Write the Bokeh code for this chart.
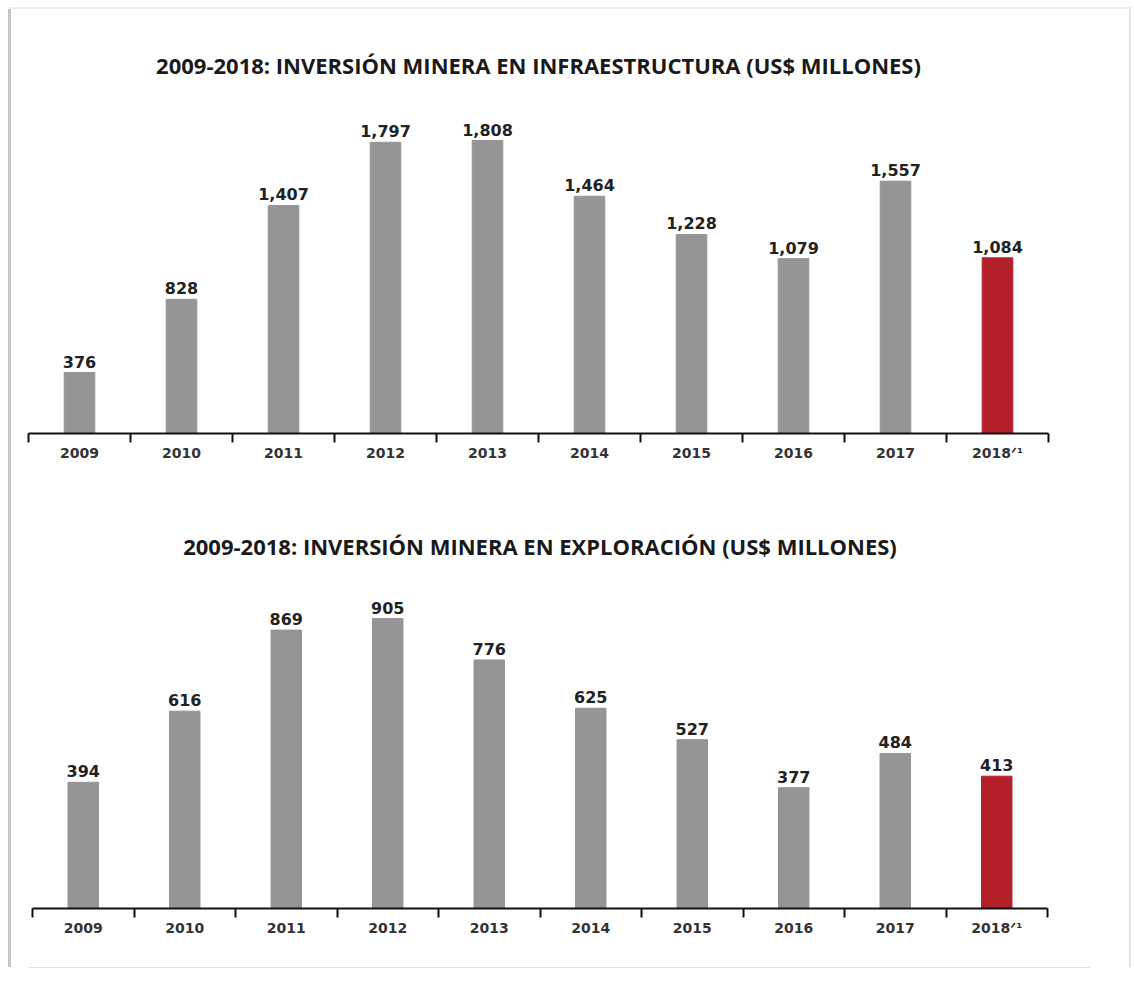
from bokeh.plotting import figure
from bokeh.layouts import column
from bokeh.models import FixedTicker, ColumnDataSource, Range1d, CustomJSTickFormatter
from bokeh.core.properties import value
from bokeh.embed import file_html
from bokeh.resources import INLINE

years = ["2009", "2010", "2011", "2012", "2013", "2014", "2015", "2016", "2017", "2018"]
infraestructura = [376, 828, 1407, 1797, 1808, 1464, 1228, 1079, 1557, 1084]
exploracion = [394, 616, 869, 905, 776, 625, 527, 377, 484, 413]
bar_colors = ["#959595"] * 9 + ["#B3202A"]
title_infra = "2009-2018: INVERSIÓN MINERA EN INFRAESTRUCTURA (US$ MILLONES)"
title_explo = "2009-2018: INVERSIÓN MINERA EN EXPLORACIÓN (US$ MILLONES)"
note = "\u141f\u00b9"  # superscript "/1" note marker on the last year

W = 1132


def make_chart(vals, title, height, ymax, mb_left, mb_right, mb_top, mb_bottom, standoff, styles=None):
    n = len(years)
    pos = [i + 0.5 for i in range(n)]
    p = figure(width=W, height=height, output_backend="svg", toolbar_location=None,
               x_range=Range1d(0, n), y_range=Range1d(0, ymax),
               min_border_left=mb_left, min_border_right=mb_right,
               min_border_top=mb_top, min_border_bottom=mb_bottom,
               background_fill_color=None, border_fill_color=None)
    if styles:
        p.styles = styles
    src = ColumnDataSource(dict(x=pos, top=vals, color=bar_colors,
                                label=[f"{v:,}" for v in vals]))
    p.vbar(x="x", top="top", bottom=0, width=0.3, color="color", source=src)
    p.text(x="x", y="top", text="label", source=src, text_align="center",
           text_baseline="bottom", y_offset=-5, text_font=value("DejaVu Sans"),
           text_font_style="bold", text_font_size="16px", text_color="#222222")
    p.yaxis.visible = False
    p.grid.visible = False
    p.outline_line_color = None
    xa = p.xaxis[0]
    xa.ticker = FixedTicker(ticks=pos, minor_ticks=list(range(n + 1)))
    xa.formatter = CustomJSTickFormatter(
        args=dict(labels=years, note=note),
        code="var i = Math.floor(tick); return i == labels.length - 1 ? labels[i] + note : (labels[i] || '')")
    xa.axis_line_width = 2
    xa.axis_line_color = "#111111"
    xa.major_tick_line_color = None
    xa.major_tick_out = 8
    xa.major_tick_in = 0
    xa.minor_tick_in = 0
    xa.minor_tick_out = 9
    xa.minor_tick_line_width = 2
    xa.minor_tick_line_color = "#111111"
    xa.major_label_standoff = 2
    xa.major_label_text_font = "DejaVu Sans"
    xa.major_label_text_font_style = "bold"
    xa.major_label_text_font_size = "14px"
    xa.major_label_text_color = "#333333"
    p.title.text = title
    p.title.align = "center"
    p.title.text_font = "Open Sans"
    p.title.text_font_style = "bold"
    p.title.text_font_size = "22px"
    p.title.text_color = "#1a1a1a"
    p.title.standoff = standoff
    return p


p1 = make_chart(infraestructura, title_infra, 490, 2061, 28, W - 28 - 1020, 99, 57, 40)
p2 = make_chart(exploracion, title_explo, 477, 1027, 32, W - 32 - 1015, 89, 59, 38,
                styles={"box-shadow": "-7px 36px 0 -35px #e2e2e2"})

frame_bg = ", ".join([
    "linear-gradient(#c6c6c6, #c6c6c6) 8px 9px / 3px calc(100% - 9px) no-repeat",
    "linear-gradient(#ececec, #ececec) 9px 7px / 1122px 2px no-repeat",
    "linear-gradient(#e4e4e4, #e4e4e4) 1129px 9px / 2px calc(100% - 9px) no-repeat",
    "white",
])
layout = column(column(p1), column(p2), spacing=0, styles={"background": frame_bg})
open("out.html", "w").write(file_html(layout, INLINE))
